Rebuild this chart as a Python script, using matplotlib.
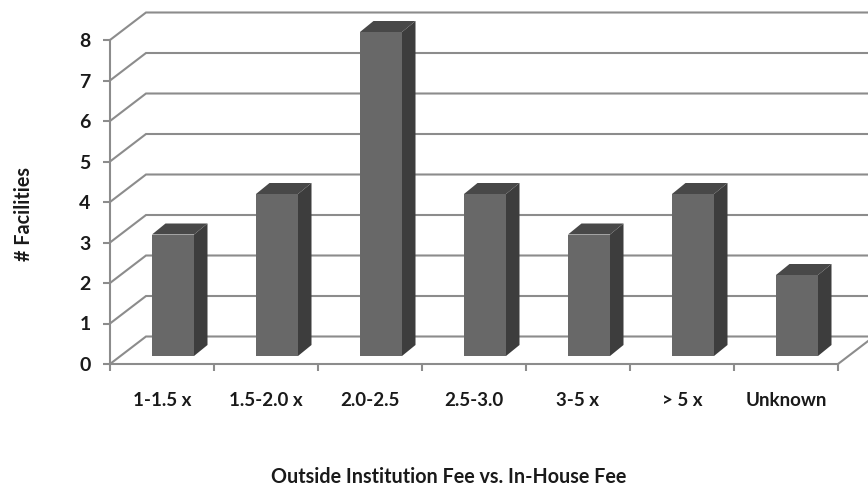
import matplotlib
matplotlib.use('Agg')
import matplotlib.pyplot as plt
from matplotlib.patches import Polygon

plt.rcParams['font.family'] = ['Lato', 'DejaVu Sans']

categories = ['1-1.5 x', '1.5-2.0 x', '2.0-2.5', '2.5-3.0', '3-5 x', '> 5 x', 'Unknown']
facilities = [3, 4, 8, 4, 3, 4, 2]
y_ticks = [0, 1, 2, 3, 4, 5, 6, 7, 8]

W, H = 868, 487
X0, X_STEP = 110, 104   # pixel x of category 0, pixels per category
Y0, Y_STEP = 364, 40.5  # pixel y of value 0, pixels per unit

# oblique depth of the floor, in data units
DEPTH_X, DEPTH_Y = 36 / X_STEP, 27.5 / Y_STEP
BAR_W = 42 / X_STEP
BAR_SHIFT_X, BAR_SHIFT_Y = 11 / X_STEP, 8 / Y_STEP
BAR_DX, BAR_DY = 13.5 / X_STEP, 11 / Y_STEP

GRID = '#8c8c8c'
FRONT, SIDE, TOP = '#686868', '#3d3d3d', '#484848'
TEXT = '#1a1a1a'

fig = plt.figure(figsize=(W / 100, H / 100), dpi=100)
ax = fig.add_axes([0, 0, 1, 1])
ax.set_xlim(-X0 / X_STEP, (W - X0) / X_STEP)
ax.set_ylim((Y0 - H) / Y_STEP, Y0 / Y_STEP)

# back wall and side wall gridlines
for v in y_ticks:
    ax.plot([0, DEPTH_X, ax.get_xlim()[1]], [v, v + DEPTH_Y, v + DEPTH_Y],
            color=GRID, lw=1.5, zorder=1, solid_joinstyle='miter')
# right edge of the floor
n = len(categories)
ax.plot([n, n + DEPTH_X], [0, DEPTH_Y], color=GRID, lw=1.5, zorder=1)

# 3d bars: side, top, front
for i, val in enumerate(facilities):
    x1 = i + 0.5 + BAR_SHIFT_X - BAR_W / 2
    x2 = x1 + BAR_W
    y1 = BAR_SHIFT_Y
    y2 = val + BAR_SHIFT_Y
    ax.add_patch(Polygon([(x2, y1), (x2 + BAR_DX, y1 + BAR_DY), (x2 + BAR_DX, y2 + BAR_DY), (x2, y2)],
                         closed=True, fc=SIDE, ec='none', zorder=3))
    ax.add_patch(Polygon([(x1, y2), (x1 + BAR_DX, y2 + BAR_DY), (x2 + BAR_DX, y2 + BAR_DY), (x2, y2)],
                         closed=True, fc=TOP, ec='none', zorder=3))
    ax.bar(i + 0.5 + BAR_SHIFT_X, val, width=BAR_W, bottom=y1, color=FRONT, zorder=4)

for s in ['top', 'right']:
    ax.spines[s].set_visible(False)
for s in ['left', 'bottom']:
    ax.spines[s].set_position(('data', 0))
    ax.spines[s].set_color(GRID)
    ax.spines[s].set_linewidth(1.5)
    ax.spines[s].set_zorder(5)
ax.spines['left'].set_bounds(0, 8)
ax.spines['bottom'].set_bounds(0, n)

ax.set_yticks(y_ticks)
ax.set_xticks(range(n + 1))
ax.set_xticklabels([])
ax.set_xticks([i + 0.5 for i in range(n)], minor=True)
ax.set_xticklabels(categories, minor=True, fontsize=13.5, fontweight='bold', color=TEXT)
ax.tick_params(axis='x', which='major', length=5, width=1.5, color=GRID)
ax.tick_params(axis='x', which='minor', length=0, pad=20)
ax.tick_params(axis='y', length=5, width=1.5, color=GRID, pad=9,
               labelsize=14, labelcolor=TEXT)
for lab in ax.get_yticklabels():
    lab.set_fontweight('bold')

ax.set_xlabel('Outside Institution Fee vs. In-House Fee', fontsize=14.2, fontweight='bold', color=TEXT)
ax.xaxis.set_label_coords(449 / W, 1 - 477 / H)
ax.xaxis.label.set_va('center')
ax.set_ylabel('# Facilities', fontsize=14.2, fontweight='bold', color=TEXT)
ax.yaxis.set_label_coords(24 / W, 1 - 214 / H)
ax.yaxis.label.set_va('center')

fig.savefig('out.png', dpi=100)
